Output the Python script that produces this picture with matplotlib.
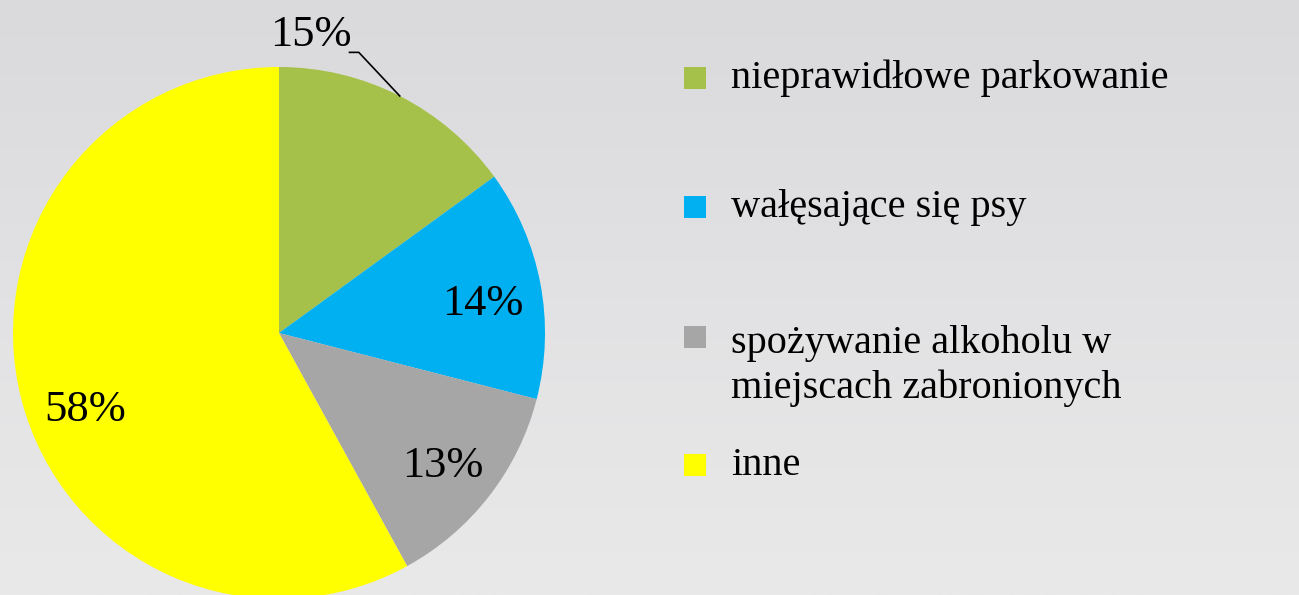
import matplotlib
matplotlib.use("Agg")
import matplotlib.pyplot as plt
import numpy as np
from matplotlib.patches import Rectangle
from matplotlib.colors import LinearSegmentedColormap
from matplotlib.transforms import offset_copy

categories = ["nieprawidłowe parkowanie", "wałęsające się psy",
              "spożywanie alkoholu w\nmiejscach zabronionych", "inne"]
values = [15, 14, 13, 58]
labels = ["15%", "14%", "13%", "58%"]
colors = ["#A6C14A", "#00B0F0", "#A6A6A6", "#FFFF00"]

W, H = 1299, 595
fig = plt.figure(figsize=(W / 100, H / 100), dpi=100)

# background (light grey, like the faded watermark picture)
bg = fig.add_axes([0, 0, 1, 1], zorder=-10)
grad = np.linspace(0, 1, 256).reshape(-1, 1)
cmap = LinearSegmentedColormap.from_list("bg", ["#dadadd", "#e2e2e4", "#e9e9e9"])
bg.imshow(grad, aspect="auto", cmap=cmap, extent=[0, 1, 0, 1], origin="upper")
bg.set_xlim(0, 1)
bg.set_ylim(0, 1)
bg.axis("off")

# pie
cx, cy, r = 279, 333, 266
ax = fig.add_axes([(cx - r) / W, (H - cy - r) / H, 2 * r / W, 2 * r / H])
wedges, _ = ax.pie(values, colors=colors, startangle=90, counterclock=False,
                   radius=1.0, wedgeprops=dict(linewidth=0))
ax.set_xlim(-1, 1)
ax.set_ylim(-1, 1)
ax.set_aspect("equal")
ax.axis("off")
for w in wedges:
    w.set_clip_on(False)

serif = ["Liberation Serif", "DejaVu Serif"]
fs = 29
lfs = 32
nudges = [(0, 0), (0, -7), (0, -4), (5, -18)]  # label nudges in points
for i, (w, lab) in enumerate(zip(wedges, labels)):
    mid = np.deg2rad((w.theta1 + w.theta2) / 2)
    if i == 0:
        # outside label with leader line
        x0, y0 = np.cos(mid), np.sin(mid)
        ax.plot([x0, 0.30, 0.265], [y0, 1.055, 1.055], color="black", lw=1.2,
                clip_on=False)
        ax.text(0.12, 1.12, lab, ha="center", va="center", fontsize=lfs,
                family=serif, clip_on=False)
    else:
        d = 0.78
        tr = offset_copy(ax.transData, fig=fig, x=nudges[i][0], y=nudges[i][1],
                         units="points")
        ax.text(d * np.cos(mid), d * np.sin(mid), lab, ha="center",
                va="center", fontsize=lfs, family=serif, transform=tr)

# legend drawn manually
sq = 22
baselines = [88, 217, 347, 475]   # baseline of first line of each entry
line_h = 51
for cat, col, b in zip(categories, colors, baselines):
    fig.patches.append(Rectangle((684 / W, (H - b - 1) / H), sq / W, sq / H,
                                 transform=fig.transFigure, facecolor=col,
                                 edgecolor="none"))
    nl = cat.count("\n")
    fig.text(731 / W, (H - b - nl * line_h) / H, cat, ha="left", va="baseline",
             fontsize=fs, family=serif, linespacing=1.27)

fig.savefig("out.png", dpi=100)
